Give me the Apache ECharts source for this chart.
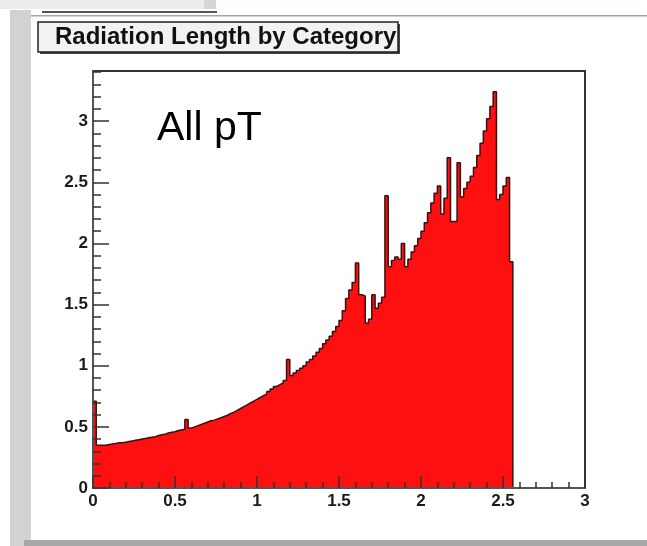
<!DOCTYPE html>
<html>
<head>
<meta charset="utf-8">
<script src="https://cdn.jsdelivr.net/npm/echarts@6/dist/echarts.min.js"></script>
<style>
  html, body { margin: 0; padding: 0; background: #ffffff; }
  #chart { width: 647px; height: 546px; }
</style>
</head>
<body>
<div id="chart"></div>
<script>
// ---- data ----
const chartTitle = 'Radiation Length by Category';
const annotation = 'All pT';
const binWidth = 0.02;          // eta bin width
const binStart = 0;             // first bin left edge
const radLength = [
  0.71, 0.35, 0.35, 0.35, 0.355, 0.36, 0.365, 0.37, 0.37, 0.375,
  0.38, 0.385, 0.39, 0.395, 0.40, 0.405, 0.41, 0.415, 0.42, 0.43,
  0.435, 0.44, 0.45, 0.455, 0.46, 0.47, 0.475, 0.48, 0.56, 0.49,
  0.50, 0.51, 0.52, 0.53, 0.54, 0.55, 0.555, 0.565, 0.575, 0.585,
  0.595, 0.61, 0.62, 0.635, 0.65, 0.665, 0.68, 0.695, 0.71, 0.725,
  0.74, 0.755, 0.77, 0.79, 0.81, 0.83, 0.845, 0.86, 0.88, 1.05,
  0.92, 0.94, 0.96, 0.98, 1.00, 1.03, 1.05, 1.08, 1.11, 1.14,
  1.18, 1.21, 1.24, 1.28, 1.32, 1.37, 1.45, 1.55, 1.62, 1.68,
  1.84, 1.58, 1.57, 1.35, 1.38, 1.58, 1.47, 1.51, 1.56, 2.39,
  1.81, 1.86, 1.89, 1.87, 2.00, 1.81, 1.87, 1.93, 1.98, 2.04,
  2.10, 2.17, 2.25, 2.33, 2.41, 2.47, 2.24, 2.37, 2.70, 2.18,
  2.18, 2.66, 2.38, 2.45, 2.50, 2.55, 2.62, 2.72, 2.82, 2.92,
  3.02, 3.12, 3.24, 2.36, 2.40, 2.47, 2.54, 1.85
];
const xTickLabels = ['0', '0.5', '1', '1.5', '2', '2.5', '3'];
const yTickLabels = ['0', '0.5', '1', '1.5', '2', '2.5', '3'];

// ---- build histogram outline (step) from the bins ----
const stepData = [[binStart, 0]];
radLength.forEach((v, i) => stepData.push([binStart + i * binWidth, v]));
const lastEdge = binStart + radLength.length * binWidth;
stepData.push([lastEdge, radLength[radLength.length - 1]]);
stepData.push([lastEdge, 0]);

const labelFont = { fontFamily: 'Liberation Sans', fontWeight: 'bold', fontSize: 17, color: '#1a1a1a' };

function fmt(list) {
  return function (v) {
    const s = String(Math.round(v * 100) / 100);
    return list.indexOf(s) >= 0 ? s : '';
  };
}

const chart = echarts.init(document.getElementById('chart'), null, { renderer: 'canvas' });
chart.setOption({
  animation: false,
  backgroundColor: '#ffffff',
  grid: {
    left: 93, top: 71, right: 62, bottom: 58,
    show: true, borderColor: '#333', borderWidth: 2, backgroundColor: 'transparent'
  },
  xAxis: {
    type: 'value', min: 0, max: 3, interval: 0.5, z: 10,
    axisLine: { show: true, onZero: false, lineStyle: { color: '#555', width: 2 } },
    axisTick: { show: true, inside: true, length: 12, lineStyle: { color: '#333', width: 1.5 } },
    minorTick: { show: true, splitNumber: 5, length: 6, lineStyle: { color: '#333', width: 1.5 } },
    splitLine: { show: false },
    axisLabel: Object.assign({ margin: 5, formatter: fmt(xTickLabels) }, labelFont)
  },
  yAxis: {
    type: 'value', min: 0, max: 3.41, interval: 0.5, z: 10,
    axisLine: { show: true, onZero: false, lineStyle: { color: '#555', width: 2 } },
    axisTick: { show: true, inside: true, length: 16, lineStyle: { color: '#333', width: 1.5 } },
    minorTick: { show: true, splitNumber: 5, length: 8, lineStyle: { color: '#333', width: 1.5 } },
    splitLine: { show: false },
    axisLabel: Object.assign({ margin: 5, formatter: fmt(yTickLabels) }, labelFont)
  },
  series: [{
    type: 'line',
    step: 'end',
    data: stepData,
    symbol: 'none',
    lineStyle: { color: '#3a1010', width: 1.5 },
    areaStyle: { color: '#fe1010', opacity: 1, origin: 'start' },
    z: 2
  }],
  graphic: [
    // window decorations
    { type: 'rect', shape: { x: 0, y: 0, width: 215, height: 9 }, style: { fill: '#ececec' }, z: 0, silent: true },
    { type: 'rect', shape: { x: 204, y: 0, width: 12, height: 9 }, style: { fill: '#d6d6d6' }, z: 0, silent: true },
    { type: 'rect', shape: { x: 42, y: 11, width: 175, height: 2 }, style: { fill: '#555' }, z: 0, silent: true },
    { type: 'rect', shape: { x: 24, y: 15, width: 623, height: 1.5 }, style: { fill: '#9da0c8' }, z: 0, silent: true },
    { type: 'rect', shape: { x: 10, y: 10, width: 21, height: 536 }, style: { fill: '#d2d2d2' }, z: 0, silent: true },
    { type: 'rect', shape: { x: 24, y: 540, width: 623, height: 6 }, style: { fill: '#a8a8a8' }, z: 0, silent: true },
    // title box with shadow
    { type: 'rect', shape: { x: 40, y: 24, width: 360, height: 30 }, style: { fill: '#444' }, z: 20, silent: true },
    { type: 'rect', shape: { x: 38, y: 22, width: 360, height: 30 }, style: { fill: '#f2f2f2', stroke: '#222', lineWidth: 1.5 }, z: 21, silent: true },
    { type: 'text', x: 55, y: 37, style: { text: chartTitle, fill: '#111', font: 'bold 24px "Liberation Sans"', textVerticalAlign: 'middle', verticalAlign: 'middle' }, z: 22, silent: true },
    // annotation
    { type: 'text', x: 157, y: 129, style: { text: annotation, fill: '#000', font: '41px "Liberation Sans"', textVerticalAlign: 'middle', verticalAlign: 'middle' }, z: 22, silent: true }
  ]
});
</script>
</body>
</html>
